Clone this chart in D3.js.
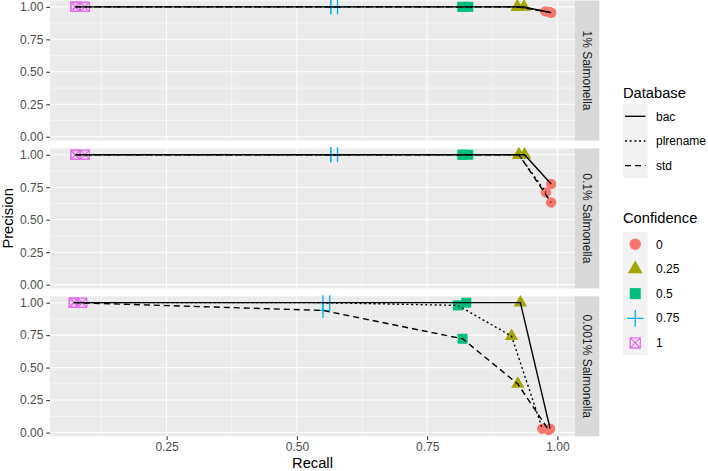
<!DOCTYPE html>
<html><head><meta charset="utf-8">
<script src="https://cdn.jsdelivr.net/npm/d3@7"></script>
<style>body{margin:0;background:#fff}svg{display:block;font-family:"Liberation Sans",Arial,sans-serif}</style>
</head><body><svg id="c" width="708" height="471"></svg>
<script>
// ---- data ----
const facets = ["1% Salmonella", "0.1% Salmonella", "0.001% Salmonella"];
const databases = ["bac", "plrename", "std"];
const confidences = ["0", "0.25", "0.5", "0.75", "1"];
// rows: bac, plrename, std ; columns: confidence 0, 0.25, 0.5, 0.75, 1
const recall_1pct = [
  [0.988, 0.936, 0.818, 0.565, 0.075],
  [0.977, 0.923, 0.829, 0.578, 0.093],
  [0.985, 0.923, 0.818, 0.565, 0.075]];
const precision_1pct = [
  [0.955, 1, 1, 1, 1],
  [0.965, 1, 1, 1, 1],
  [0.960, 1, 1, 1, 1]];
const recall_01pct = [
  [0.988, 0.937, 0.818, 0.565, 0.075],
  [0.978, 0.926, 0.829, 0.578, 0.093],
  [0.988, 0.926, 0.818, 0.565, 0.075]];
const precision_01pct = [
  [0.775, 1, 1, 1, 1],
  [0.710, 1, 1, 1, 1],
  [0.633, 1, 1, 1, 1]];
const recall_0001pct = [
  [0.986, 0.929, 0.825, 0.563, 0.072],
  [0.971, 0.912, 0.809, 0.550, 0.088],
  [0.983, 0.924, 0.818, 0.550, 0.072]];
const precision_0001pct = [
  [0.030, 1, 1, 1, 1],
  [0.030, 0.742, 0.979, 1, 1],
  [0.020, 0.374, 0.722, 0.940, 1]];
const recallSets = [recall_1pct, recall_01pct, recall_0001pct];
const precisionSets = [precision_1pct, precision_01pct, precision_0001pct];
const xTicks = [0.25, 0.5, 0.75, 1.0];
const yTicks = [0, 0.25, 0.5, 0.75, 1.0];
const xMinor = [0.125, 0.375, 0.625, 0.875];
const yMinor = [0.125, 0.375, 0.625, 0.875];

// ---- build rows ----
const rows = [];
facets.forEach((f, fi) => databases.forEach((db, di) => confidences.forEach((c, ci) => {
  rows.push({facet: fi, db, conf: c, recall: recallSets[fi][di][ci], precision: precisionSets[fi][di][ci]});
})));

// ---- layout ----
const svg = d3.select("#c");
const pL = 50, pR = 575, pH = 140, gap = 7.9, top0 = 0.5;
const stripW = 24.3;
function expand(ext){const r = ext[1]-ext[0]; return [ext[0]-0.05*r, ext[1]+0.05*r];}
const x = d3.scaleLinear().domain(expand(d3.extent(rows, d => d.recall))).range([pL, pR]);
const yDom = expand(d3.extent(rows, d => d.precision));

const colors = d3.scaleOrdinal().domain(confidences).range(["#F8766D", "#A3A500", "#00BF7D", "#00B0F6", "#E76BF3"]);
const dashes = {bac: null, plrename: "2 2.7", std: "6 4"};
const lw = 1.4;

function drawShape(g, conf, cx, cy, scale) {
  const col = colors(conf);
  const s = scale || 1;
  if (conf === "0") {
    g.append("circle").attr("cx", cx).attr("cy", cy).attr("r", 5.2 * s).attr("fill", col);
  } else if (conf === "0.25") {
    g.append("path").attr("transform", `translate(${cx},${cy})`)
      .attr("d", d3.symbol(d3.symbolTriangle, 78 * s * s)()).attr("fill", col);
  } else if (conf === "0.5") {
    const h = 5 * s;
    g.append("rect").attr("x", cx - h).attr("y", cy - h).attr("width", 2 * h).attr("height", 2 * h).attr("fill", col);
  } else if (conf === "0.75") {
    const h = 7.5 * s;
    g.append("path").attr("d", `M${cx - h},${cy}H${cx + h}M${cx},${cy - h}V${cy + h}`)
      .attr("stroke", col).attr("stroke-width", 1.3).attr("fill", "none");
  } else {
    const h = 4.6 * s;
    g.append("path").attr("d", `M${cx - h},${cy - h}H${cx + h}V${cy + h}H${cx - h}Z M${cx - h},${cy - h}L${cx + h},${cy + h}M${cx + h},${cy - h}L${cx - h},${cy + h}`)
      .attr("stroke", col).attr("stroke-width", 1.3).attr("fill", "none");
  }
}

facets.forEach((f, fi) => {
  const t = top0 + fi * (pH + gap);
  const y = d3.scaleLinear().domain(yDom).range([t + pH, t]);
  const g = svg.append("g");
  g.append("rect").attr("x", pL).attr("y", t).attr("width", pR - pL).attr("height", pH).attr("fill", "#EBEBEB");
  xMinor.forEach(v => g.append("line").attr("x1", x(v)).attr("x2", x(v)).attr("y1", t).attr("y2", t + pH).attr("stroke", "#fff").attr("stroke-width", 0.55));
  yMinor.forEach(v => g.append("line").attr("x1", pL).attr("x2", pR).attr("y1", y(v)).attr("y2", y(v)).attr("stroke", "#fff").attr("stroke-width", 0.55));
  xTicks.forEach(v => g.append("line").attr("x1", x(v)).attr("x2", x(v)).attr("y1", t).attr("y2", t + pH).attr("stroke", "#fff").attr("stroke-width", 1.07));
  yTicks.forEach(v => g.append("line").attr("x1", pL).attr("x2", pR).attr("y1", y(v)).attr("y2", y(v)).attr("stroke", "#fff").attr("stroke-width", 1.07));

  // y axis
  const ya = svg.append("g").attr("transform", `translate(${pL},0)`)
    .call(d3.axisLeft(y).tickValues(yTicks).tickFormat(d3.format(".2f")).tickSize(3.7).tickPadding(2.9));
  ya.select(".domain").remove();
  ya.selectAll(".tick line").attr("stroke", "#333333").attr("stroke-width", 1.07);
  ya.selectAll(".tick text").attr("fill", "#4D4D4D").attr("font-size", 12).attr("font-family", "Liberation Sans, Arial, sans-serif");

  // strip
  svg.append("rect").attr("x", pR).attr("y", t).attr("width", stripW).attr("height", pH).attr("fill", "#D9D9D9");
  svg.append("text").attr("transform", `translate(${pR + 8},${t + pH / 2}) rotate(90)`)
    .attr("text-anchor", "middle").attr("font-size", 12).attr("fill", "#1A1A1A").text(f);

  // points
  const pg = svg.append("g");
  rows.filter(d => d.facet === fi).forEach(d => drawShape(pg, d.conf, x(d.recall), y(d.precision)));
  // lines (drawn on top)
  databases.forEach(db => {
    const pts = rows.filter(d => d.facet === fi && d.db === db).sort((a, b) => a.recall - b.recall);
    svg.append("path").datum(pts)
      .attr("d", d3.line().x(d => x(d.recall)).y(d => y(d.precision)))
      .attr("fill", "none").attr("stroke", "#000").attr("stroke-width", lw)
      .attr("stroke-dasharray", dashes[db]);
  });
});

// x axis
const bottom = top0 + 3 * pH + 2 * gap;
const xa = svg.append("g").attr("transform", `translate(0,${bottom})`)
  .call(d3.axisBottom(x).tickValues(xTicks).tickFormat(d3.format(".2f")).tickSize(3.7).tickPadding(2.9));
xa.select(".domain").remove();
xa.selectAll(".tick line").attr("stroke", "#333333").attr("stroke-width", 1.07);
xa.selectAll(".tick text").attr("fill", "#4D4D4D").attr("font-size", 12).attr("font-family", "Liberation Sans, Arial, sans-serif");

// axis titles
svg.append("text").attr("x", (pL + pR) / 2).attr("y", 468).attr("text-anchor", "middle").attr("font-size", 14.7).attr("fill", "#000").text("Recall");
svg.append("text").attr("transform", `translate(13.3,${(top0 + bottom) / 2}) rotate(-90)`).attr("text-anchor", "middle").attr("font-size", 14.7).attr("fill", "#000").text("Precision");

// legends
const lgX = 623, keyW = 24.5, keyH = 24.65;
svg.append("text").attr("x", lgX).attr("y", 98).attr("font-size", 14.7).text("Database");
databases.forEach((db, i) => {
  const ky = 104 + i * keyH;
  svg.append("rect").attr("x", lgX).attr("y", ky).attr("width", keyW).attr("height", keyH).attr("fill", "#F2F2F2");
  svg.append("line").attr("x1", lgX + 2).attr("x2", lgX + keyW - 2).attr("y1", ky + keyH / 2).attr("y2", ky + keyH / 2)
    .attr("stroke", "#000").attr("stroke-width", lw).attr("stroke-dasharray", dashes[db]);
  svg.append("text").attr("x", 656).attr("y", ky + keyH / 2).attr("dy", "0.35em").attr("font-size", 12).text(db);
});
svg.append("text").attr("x", lgX).attr("y", 223).attr("font-size", 14.7).text("Confidence");
confidences.forEach((c, i) => {
  const ky = 232 + i * keyH;
  svg.append("rect").attr("x", lgX).attr("y", ky).attr("width", keyW).attr("height", keyH).attr("fill", "#F2F2F2");
  drawShape(svg, c, lgX + keyW / 2, ky + keyH / 2, 1.1);
  svg.append("text").attr("x", 656).attr("y", ky + keyH / 2).attr("dy", "0.35em").attr("font-size", 12).text(c);
});
</script></body></html>
